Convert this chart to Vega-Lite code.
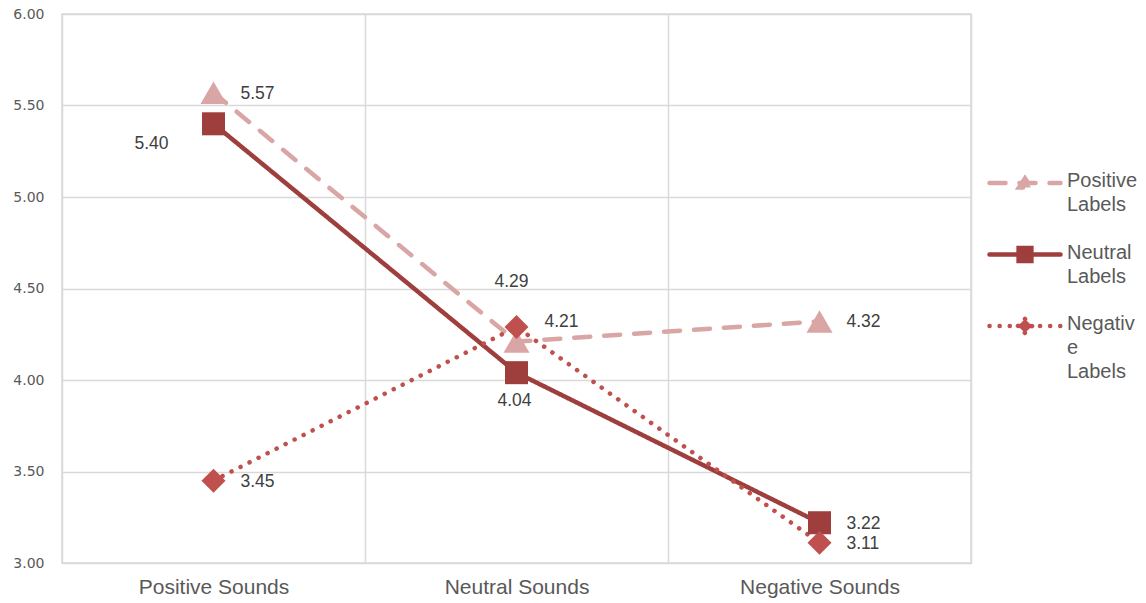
{
  "$schema": "https://vega.github.io/schema/vega-lite/v6.json",
  "width": 909,
  "height": 549,
  "autosize": {"type": "none"},
  "padding": {"left": 62, "top": 14, "right": 175, "bottom": 40},
  "background": "white",
  "config": {"view": {"stroke": "#d9d9d9", "strokeWidth": 1.5}},
  "data": {
    "values": [
      {"sound": "Positive Sounds", "series": "Positive Labels", "mean": 5.57},
      {"sound": "Neutral Sounds", "series": "Positive Labels", "mean": 4.21},
      {"sound": "Negative Sounds", "series": "Positive Labels", "mean": 4.32},
      {"sound": "Positive Sounds", "series": "Neutral Labels", "mean": 5.40},
      {"sound": "Neutral Sounds", "series": "Neutral Labels", "mean": 4.04},
      {"sound": "Negative Sounds", "series": "Neutral Labels", "mean": 3.22},
      {"sound": "Positive Sounds", "series": "Negative Labels", "mean": 3.45},
      {"sound": "Neutral Sounds", "series": "Negative Labels", "mean": 4.29},
      {"sound": "Negative Sounds", "series": "Negative Labels", "mean": 3.11}
    ]
  },
  "encoding": {
    "x": {
      "field": "sound", "type": "nominal",
      "sort": ["Positive Sounds", "Neutral Sounds", "Negative Sounds"],
      "scale": {"type": "band", "paddingInner": 0, "paddingOuter": 0},
      "axis": {
        "title": null, "labelAngle": 0, "tickBand": "extent", "grid": true,
        "gridColor": "#d9d9d9", "gridWidth": 1.5, "domain": false, "ticks": false,
        "labelFont": "Liberation Sans", "labelFontSize": 21, "labelColor": "#595959", "labelPadding": 13
      }
    },
    "y": {
      "field": "mean", "type": "quantitative",
      "scale": {"domain": [3, 6], "nice": false, "zero": false},
      "axis": {
        "title": null, "values": [3, 3.5, 4, 4.5, 5, 5.5, 6], "format": ".2f", "grid": true,
        "gridColor": "#d9d9d9", "gridWidth": 1.5, "domain": false, "ticks": false,
        "labelFont": "DejaVu Sans", "labelFontSize": 14, "labelColor": "#595959", "labelPadding": 18
      }
    }
  },
  "layer": [
    {
      "mark": {"type": "line", "strokeWidth": 4.5, "strokeCap": "round"},
      "encoding": {
        "color": {
          "field": "series", "type": "nominal",
          "scale": {"domain": ["Positive Labels", "Neutral Labels", "Negative Labels"], "range": ["#D9A5A5", "#9E3F3D", "#C0504D"]},
          "legend": {
            "orient": "none", "legendX": 925, "legendY": 131, "title": null, "padding": 0,
            "symbolType": "stroke", "symbolSize": 5041, "symbolStrokeWidth": 4.5,
            "labelFont": "Liberation Sans", "labelFontSize": 20, "labelColor": "#595959",
            "labelOffset": 4, "labelLimit": 200, "labelBaseline": "top", "rowPadding": 1.5,
            "labelExpr": "datum.value == 'Negative Labels' ? ['Negativ', 'e', 'Labels'] : split(datum.value, ' ')",
            "encode": {
              "symbols": {
                "update": {
                  "shape": {"signal": "datum.value == 'Positive Labels' ? 'M-1,0L1,0M-0.17,0.13L0,-0.13L0.17,0.13Z' : datum.value == 'Neutral Labels' ? 'M-1,0L1,0M-0.18,-0.18L0.18,-0.18L0.18,0.18L-0.18,0.18Z' : 'M-1,0L1,0M0,-0.2L0.2,0L0,0.2L-0.2,0Z'"},
                  "fill": {"signal": "datum.value == 'Positive Labels' ? '#D9A5A5' : datum.value == 'Neutral Labels' ? '#9E3F3D' : '#C0504D'"},
                  "strokeDash": {"signal": "datum.value == 'Positive Labels' ? [14, 12] : datum.value == 'Neutral Labels' ? [1, 0] : [0.1, 12]"},
                  "strokeCap": {"value": "round"},
                  "opacity": {"value": 1}
                }
              },
              "labels": {"update": {"lineHeight": {"value": 24}, "dy": {"value": -12}}}
            }
          }
        },
        "strokeDash": {
          "field": "series", "type": "nominal",
          "scale": {"domain": ["Positive Labels", "Neutral Labels", "Negative Labels"], "range": [[16, 14], [1, 0], [0.1, 10]]},
          "legend": null
        }
      }
    },
    {
      "transform": [{"filter": "datum.series == 'Positive Labels'"}],
      "mark": {"type": "point", "filled": true, "opacity": 1, "strokeWidth": 0, "shape": "triangle-up", "size": 680, "fill": "#D9A5A5"}
    },
    {
      "transform": [{"filter": "datum.series == 'Neutral Labels'"}],
      "mark": {"type": "point", "filled": true, "opacity": 1, "strokeWidth": 0, "shape": "square", "size": 530, "fill": "#9E3F3D"}
    },
    {
      "transform": [{"filter": "datum.series == 'Negative Labels'"}],
      "mark": {"type": "point", "filled": true, "opacity": 1, "strokeWidth": 0, "shape": "diamond", "size": 576, "fill": "#C0504D"}
    },
    {
      "transform": [{"filter": "!((datum.series == 'Positive Labels' && datum.sound == 'Neutral Sounds') || (datum.series == 'Neutral Labels' && datum.sound != 'Negative Sounds') || (datum.series == 'Negative Labels' && datum.sound == 'Neutral Sounds'))"}],
      "mark": {"type": "text", "align": "left", "baseline": "middle", "dx": 27, "dy": 1, "font": "Liberation Sans", "fontSize": 17.5, "fill": "#404040"},
      "encoding": {"text": {"field": "mean", "type": "quantitative", "format": ".2f"}}
    },
    {
      "transform": [{"filter": "datum.series == 'Positive Labels' && datum.sound == 'Neutral Sounds'"}],
      "mark": {"type": "text", "align": "left", "baseline": "middle", "dx": 28, "dy": -20, "font": "Liberation Sans", "fontSize": 17.5, "fill": "#404040"},
      "encoding": {"text": {"field": "mean", "type": "quantitative", "format": ".2f"}}
    },
    {
      "transform": [{"filter": "datum.series == 'Neutral Labels' && datum.sound == 'Positive Sounds'"}],
      "mark": {"type": "text", "align": "right", "baseline": "middle", "dx": -45, "dy": 20, "font": "Liberation Sans", "fontSize": 17.5, "fill": "#404040"},
      "encoding": {"text": {"field": "mean", "type": "quantitative", "format": ".2f"}}
    },
    {
      "transform": [{"filter": "datum.series == 'Neutral Labels' && datum.sound == 'Neutral Sounds'"}],
      "mark": {"type": "text", "align": "center", "baseline": "middle", "dx": -2, "dy": 28, "font": "Liberation Sans", "fontSize": 17.5, "fill": "#404040"},
      "encoding": {"text": {"field": "mean", "type": "quantitative", "format": ".2f"}}
    },
    {
      "transform": [{"filter": "datum.series == 'Negative Labels' && datum.sound == 'Neutral Sounds'"}],
      "mark": {"type": "text", "align": "center", "baseline": "middle", "dx": -5, "dy": -45, "font": "Liberation Sans", "fontSize": 17.5, "fill": "#404040"},
      "encoding": {"text": {"field": "mean", "type": "quantitative", "format": ".2f"}}
    }
  ]
}
